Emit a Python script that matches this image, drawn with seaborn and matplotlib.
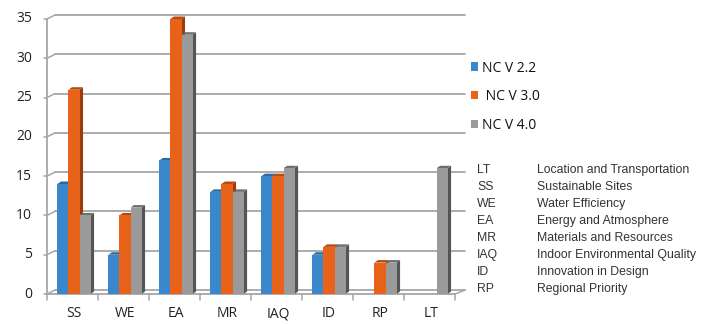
import matplotlib
matplotlib.use("Agg")
import matplotlib.pyplot as plt
from matplotlib.patches import Polygon, Patch
import seaborn as sns
import pandas as pd

categories = ["SS", "WE", "EA", "MR", "IAQ", "ID", "RP", "LT"]
series_names = ["NC V 2.2", "NC V 3.0", "NC V 4.0"]
legend_labels = ["NC V 2.2", " NC V 3.0", "NC V 4.0"]
nc_v22 = [14, 5, 17, 13, 15, 5, 0, 0]
nc_v30 = [26, 10, 35, 14, 15, 6, 4, 0]
nc_v40 = [10, 11, 33, 13, 16, 6, 4, 16]
y_ticks = [0, 5, 10, 15, 20, 25, 30, 35]

abbrevs = ["LT", "SS", "WE", "EA", "MR", "IAQ", "ID", "RP"]
descriptions = ["Location and Transportation", "Sustainable Sites", "Water Efficiency",
                "Energy and Atmosphere", "Materials and Resources",
                "Indoor Environmental Quality", "Innovation in Design", "Regional Priority"]

face_colors = ["#3a87cb", "#e8621a", "#9a9a9a"]
side_colors = ["#24588a", "#9c3c0a", "#555555"]
top_colors = ["#2d6aa3", "#b84a0e", "#6e6e6e"]
grid_color = "#a6a6a6"
text_color = "#222222"

df = pd.DataFrame({
    "category": categories * 3,
    "series": [s for s in series_names for _ in categories],
    "value": nc_v22 + nc_v30 + nc_v40,
})

sns.set_theme(style="white")
plt.rcParams["font.family"] = ["Open Sans", "DejaVu Sans"]

W, H = 701, 324
fig = plt.figure(figsize=(W / 100, H / 100), dpi=100)
ax = fig.add_axes([47 / W, (H - 294) / H, 408 / W, 275 / H])

sns.barplot(data=df, x="category", y="value", hue="series", order=categories,
            hue_order=series_names, palette=face_colors, width=0.65,
            saturation=1, edgecolor="none", linewidth=0, legend=False, ax=ax, zorder=3)

ax.set_xlim(-0.5, 7.5)
ax.set_ylim(0, 35)
for s in ax.spines.values():
    s.set_visible(False)
ax.set_xlabel("")
ax.set_ylabel("")
ax.set_xticks([])
ax.set_yticks([])

# depth of the back wall and of each bar, in data units
px_x = 8 / 408
px_y = 35 / 275
wall_dx, wall_dy = 8 * px_x, 4 * px_y
bar_dx, bar_dy = 3.5 * px_x, 2.5 * px_y
group_shift = 1.5 * px_x

# back-wall gridlines with their diagonal connectors to the front axis
for v in y_ticks:
    ax.plot([-0.5 + wall_dx, 7.7], [v + wall_dy, v + wall_dy], color=grid_color,
            lw=1.3, clip_on=False, zorder=1)
    ax.plot([-0.5, -0.5 + wall_dx], [v, v + wall_dy], color=grid_color,
            lw=1.1, clip_on=False, zorder=1)
    ax.plot([-0.5 - 3 * px_x, -0.5], [v, v], color=grid_color, lw=1.1, clip_on=False)
    ax.text(-0.5 - 15 * px_x, v, str(v), ha="right", va="center", fontsize=10,
            color=text_color)

# floor
ax.plot([-0.5, 7.5], [0, 0], color=grid_color, lw=1.3, clip_on=False, zorder=2)
ax.plot([7.5, 7.7], [0, wall_dy], color=grid_color, lw=1.1, clip_on=False, zorder=2)
ax.plot([-0.5, -0.5], [0, 35], color=grid_color, lw=1.3, clip_on=False, zorder=2)

# category ticks and labels
for i in range(len(categories) + 1):
    xb = i - 0.5
    ax.plot([xb, xb], [0, -6 * px_y], color=grid_color, lw=1.1, clip_on=False)
for i, c in enumerate(categories):
    ax.text(i + group_shift, -19.5 * px_y, c, ha="center", va="center", fontsize=10,
            color=text_color)

# side and top faces for each bar
for k, cont in enumerate(ax.containers):
    for p in cont.patches:
        p.set_x(p.get_x() + group_shift)
        h = p.get_height()
        if h <= 0:
            continue
        x0, w = p.get_x(), p.get_width()
        side = Polygon([(x0 + w, 0), (x0 + w + bar_dx, bar_dy),
                        (x0 + w + bar_dx, h + bar_dy), (x0 + w, h)],
                       closed=True, facecolor=side_colors[k], edgecolor="none",
                       zorder=2.5, clip_on=False)
        top = Polygon([(x0, h), (x0 + w, h), (x0 + w + bar_dx, h + bar_dy),
                       (x0 + bar_dx, h + bar_dy)],
                      closed=True, facecolor=top_colors[k], edgecolor="none",
                      zorder=2.6, clip_on=False)
        ax.add_patch(side)
        ax.add_patch(top)

# legend
handles = [Patch(facecolor=c, edgecolor="none") for c in face_colors]
fig.legend(handles, legend_labels, loc="upper left",
           bbox_to_anchor=(458 / W, 1 - 48 / H), frameon=False, fontsize=10,
           handlelength=0.55, handleheight=0.55, handletextpad=0.3,
           labelspacing=0.98, labelcolor="#111111")

# abbreviation key
y0, step = 170, 17.0
for i, (a, d) in enumerate(zip(abbrevs, descriptions)):
    yy = 1 - (y0 + i * step) / H
    fig.text(477 / W, yy, a, ha="left", va="center", fontsize=8.8,
             family=["Liberation Sans", "DejaVu Sans"], color="#333333")
    fig.text(537 / W, yy, d, ha="left", va="center", fontsize=8.8,
             family=["Liberation Sans", "DejaVu Sans"], color="#333333")

fig.savefig("out.png", dpi=100)
